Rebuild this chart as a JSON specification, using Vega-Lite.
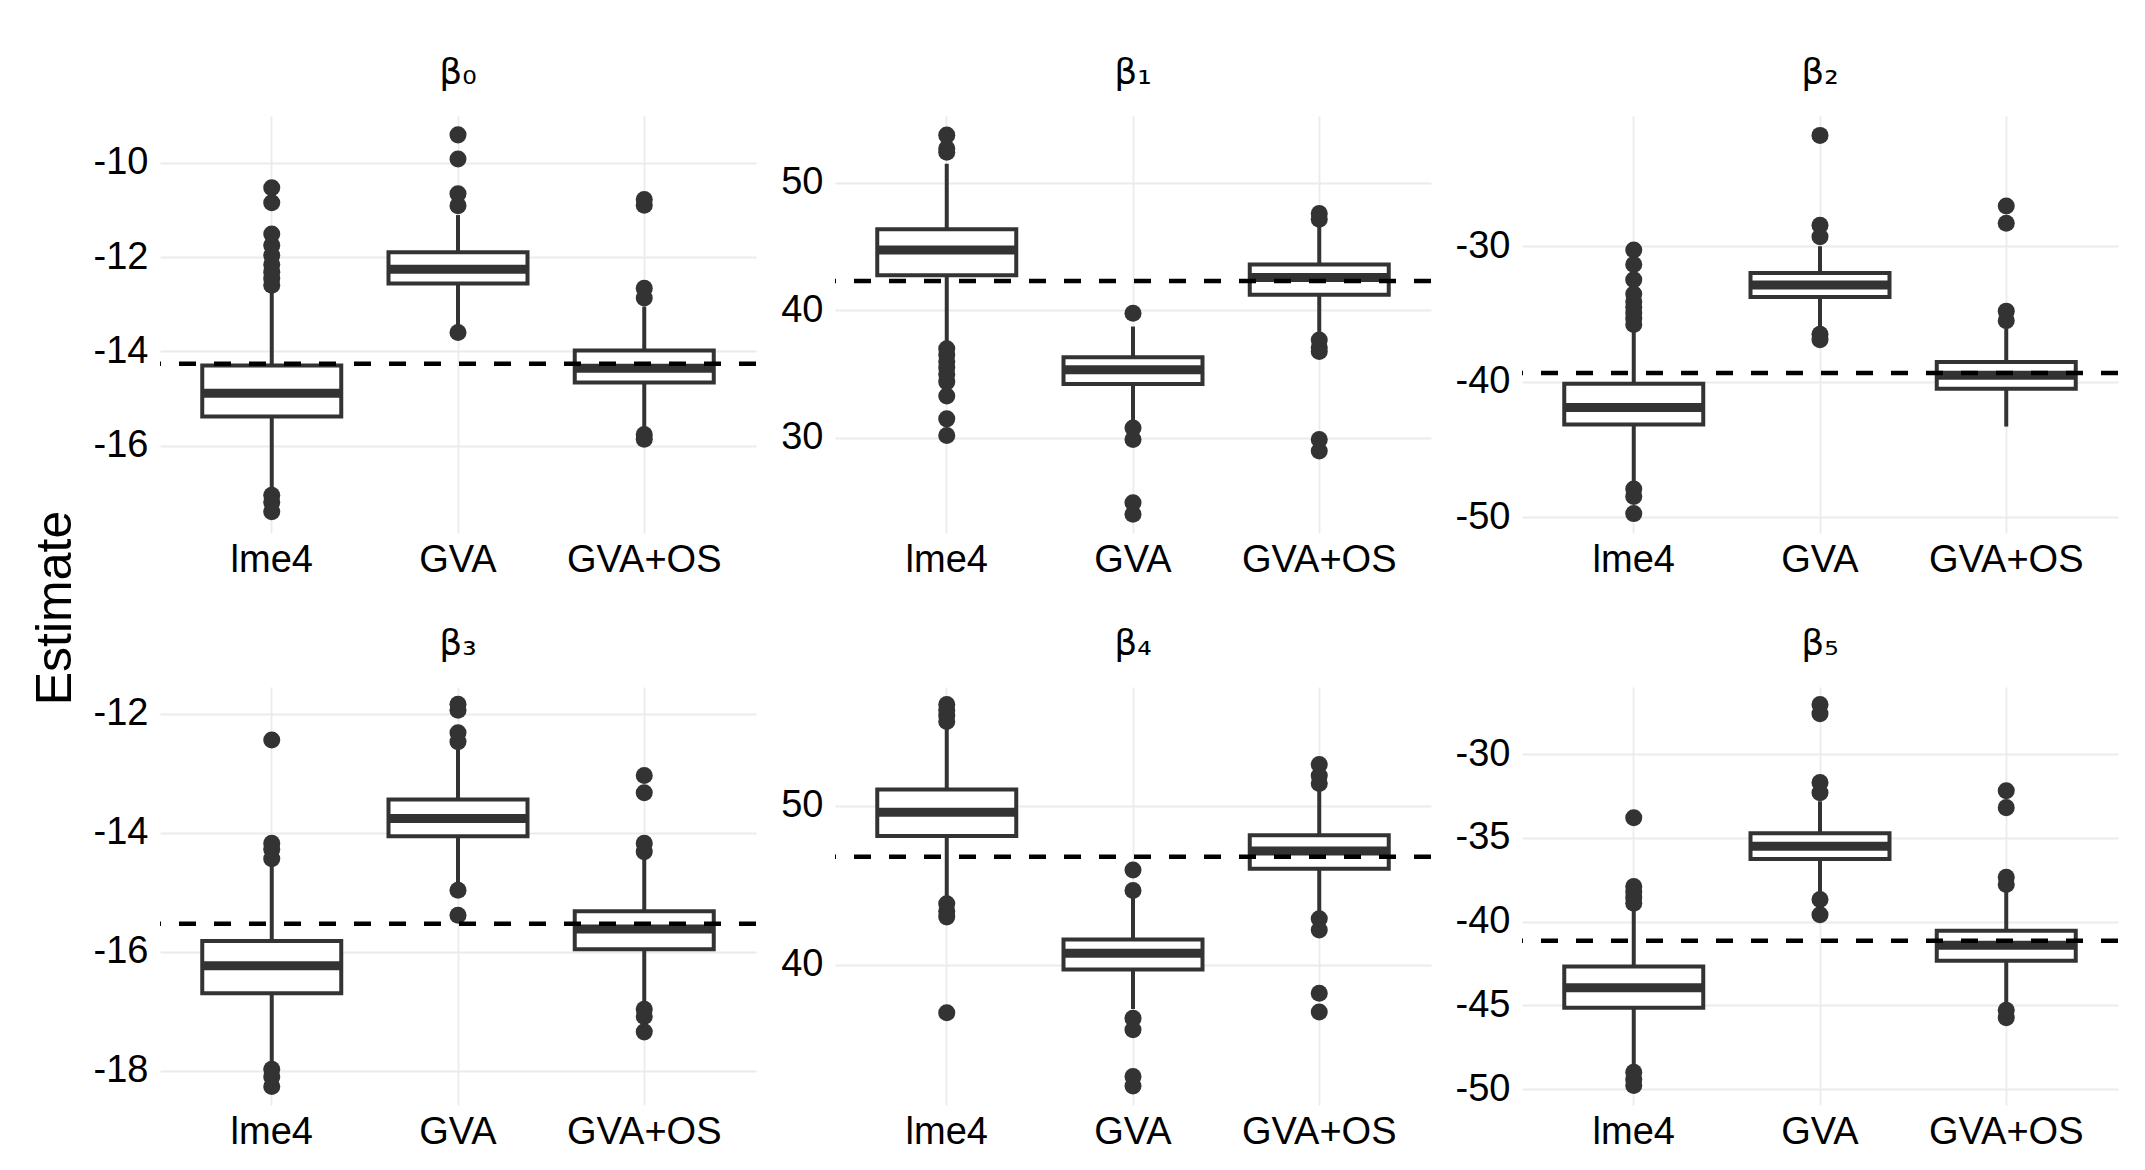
{
  "$schema": "https://vega.github.io/schema/vega-lite/v6.json",
  "background": "white",
  "padding": {"left": 27, "top": 55, "right": 20, "bottom": 10},
  "spacing": 8,
  "datasets": {
    "boxes": [
      {"param": "b0", "method": "lme4", "lower": -16.95, "q1": -15.38, "median": -14.89, "q3": -14.3, "upper": -12.66},
      {"param": "b0", "method": "GVA", "lower": -13.45, "q1": -12.56, "median": -12.26, "q3": -11.9, "upper": -11.11},
      {"param": "b0", "method": "GVA+OS", "lower": -15.6, "q1": -14.66, "median": -14.36, "q3": -13.98, "upper": -13.05},
      {"param": "b1", "method": "lme4", "lower": 37.4, "q1": 42.76, "median": 44.74, "q3": 46.37, "upper": 51.5},
      {"param": "b1", "method": "GVA", "lower": 31.4, "q1": 34.23, "median": 35.35, "q3": 36.34, "upper": 38.74},
      {"param": "b1", "method": "GVA+OS", "lower": 38.14, "q1": 41.23, "median": 42.58, "q3": 43.6, "upper": 46.55},
      {"param": "b2", "method": "lme4", "lower": -47.6, "q1": -43.15, "median": -41.89, "q3": -40.14, "upper": -36.3},
      {"param": "b2", "method": "GVA", "lower": -36.0, "q1": -33.75, "median": -32.87, "q3": -31.97, "upper": -30.0},
      {"param": "b2", "method": "GVA+OS", "lower": -43.3, "q1": -40.51, "median": -39.52, "q3": -38.54, "upper": -36.1},
      {"param": "b3", "method": "lme4", "lower": -17.9, "q1": -16.7, "median": -16.24, "q3": -15.82, "upper": -14.55},
      {"param": "b3", "method": "GVA", "lower": -14.85, "q1": -14.06, "median": -13.76, "q3": -13.44, "upper": -12.6},
      {"param": "b3", "method": "GVA+OS", "lower": -16.85, "q1": -15.96, "median": -15.62, "q3": -15.32, "upper": -14.4},
      {"param": "b4", "method": "lme4", "lower": 44.1, "q1": 48.1, "median": 49.6, "q3": 51.04, "upper": 55.0},
      {"param": "b4", "method": "GVA", "lower": 37.2, "q1": 39.69, "median": 40.71, "q3": 41.59, "upper": 44.3},
      {"param": "b4", "method": "GVA+OS", "lower": 43.25, "q1": 46.04, "median": 47.16, "q3": 48.15, "upper": 51.0},
      {"param": "b5", "method": "lme4", "lower": -48.77, "q1": -45.14, "median": -43.95, "q3": -42.68, "upper": -39.14},
      {"param": "b5", "method": "GVA", "lower": -38.24, "q1": -36.27, "median": -35.51, "q3": -34.73, "upper": -32.82},
      {"param": "b5", "method": "GVA+OS", "lower": -44.96, "q1": -42.34, "median": -41.42, "q3": -40.55, "upper": -38.24}
    ],
    "outliers": [
      {"param": "b0", "method": "lme4", "value": -10.53},
      {"param": "b0", "method": "lme4", "value": -10.85},
      {"param": "b0", "method": "lme4", "value": -11.51},
      {"param": "b0", "method": "lme4", "value": -11.75},
      {"param": "b0", "method": "lme4", "value": -11.96},
      {"param": "b0", "method": "lme4", "value": -12.16},
      {"param": "b0", "method": "lme4", "value": -12.32},
      {"param": "b0", "method": "lme4", "value": -12.46},
      {"param": "b0", "method": "lme4", "value": -12.6},
      {"param": "b0", "method": "lme4", "value": -17.05},
      {"param": "b0", "method": "lme4", "value": -17.2},
      {"param": "b0", "method": "lme4", "value": -17.4},
      {"param": "b0", "method": "GVA", "value": -9.41},
      {"param": "b0", "method": "GVA", "value": -9.92},
      {"param": "b0", "method": "GVA", "value": -10.66},
      {"param": "b0", "method": "GVA", "value": -10.91},
      {"param": "b0", "method": "GVA", "value": -13.6},
      {"param": "b0", "method": "GVA+OS", "value": -10.78},
      {"param": "b0", "method": "GVA+OS", "value": -10.9},
      {"param": "b0", "method": "GVA+OS", "value": -12.66},
      {"param": "b0", "method": "GVA+OS", "value": -12.87},
      {"param": "b0", "method": "GVA+OS", "value": -15.76},
      {"param": "b0", "method": "GVA+OS", "value": -15.86},
      {"param": "b1", "method": "lme4", "value": 53.75},
      {"param": "b1", "method": "lme4", "value": 52.7},
      {"param": "b1", "method": "lme4", "value": 52.4},
      {"param": "b1", "method": "lme4", "value": 37.0},
      {"param": "b1", "method": "lme4", "value": 36.5},
      {"param": "b1", "method": "lme4", "value": 36.0},
      {"param": "b1", "method": "lme4", "value": 35.5},
      {"param": "b1", "method": "lme4", "value": 35.0},
      {"param": "b1", "method": "lme4", "value": 34.4},
      {"param": "b1", "method": "lme4", "value": 33.3},
      {"param": "b1", "method": "lme4", "value": 31.5},
      {"param": "b1", "method": "lme4", "value": 30.2},
      {"param": "b1", "method": "GVA", "value": 39.79},
      {"param": "b1", "method": "GVA", "value": 30.78},
      {"param": "b1", "method": "GVA", "value": 29.88},
      {"param": "b1", "method": "GVA", "value": 24.93},
      {"param": "b1", "method": "GVA", "value": 24.02},
      {"param": "b1", "method": "GVA+OS", "value": 47.6},
      {"param": "b1", "method": "GVA+OS", "value": 47.15},
      {"param": "b1", "method": "GVA+OS", "value": 37.69},
      {"param": "b1", "method": "GVA+OS", "value": 37.09},
      {"param": "b1", "method": "GVA+OS", "value": 36.79},
      {"param": "b1", "method": "GVA+OS", "value": 29.88},
      {"param": "b1", "method": "GVA+OS", "value": 28.98},
      {"param": "b2", "method": "lme4", "value": -30.28},
      {"param": "b2", "method": "lme4", "value": -31.35},
      {"param": "b2", "method": "lme4", "value": -32.48},
      {"param": "b2", "method": "lme4", "value": -33.52},
      {"param": "b2", "method": "lme4", "value": -34.08},
      {"param": "b2", "method": "lme4", "value": -34.51},
      {"param": "b2", "method": "lme4", "value": -34.93},
      {"param": "b2", "method": "lme4", "value": -35.35},
      {"param": "b2", "method": "lme4", "value": -35.77},
      {"param": "b2", "method": "lme4", "value": -47.9},
      {"param": "b2", "method": "lme4", "value": -48.45},
      {"param": "b2", "method": "lme4", "value": -49.72},
      {"param": "b2", "method": "GVA", "value": -21.83},
      {"param": "b2", "method": "GVA", "value": -28.45},
      {"param": "b2", "method": "GVA", "value": -29.3},
      {"param": "b2", "method": "GVA", "value": -36.5},
      {"param": "b2", "method": "GVA", "value": -36.9},
      {"param": "b2", "method": "GVA+OS", "value": -27.04},
      {"param": "b2", "method": "GVA+OS", "value": -28.31},
      {"param": "b2", "method": "GVA+OS", "value": -34.79},
      {"param": "b2", "method": "GVA+OS", "value": -35.49},
      {"param": "b3", "method": "lme4", "value": -12.44},
      {"param": "b3", "method": "lme4", "value": -14.18},
      {"param": "b3", "method": "lme4", "value": -14.28},
      {"param": "b3", "method": "lme4", "value": -14.44},
      {"param": "b3", "method": "lme4", "value": -17.98},
      {"param": "b3", "method": "lme4", "value": -18.11},
      {"param": "b3", "method": "lme4", "value": -18.27},
      {"param": "b3", "method": "GVA", "value": -11.84},
      {"param": "b3", "method": "GVA", "value": -11.94},
      {"param": "b3", "method": "GVA", "value": -12.32},
      {"param": "b3", "method": "GVA", "value": -12.47},
      {"param": "b3", "method": "GVA", "value": -14.97},
      {"param": "b3", "method": "GVA", "value": -15.39},
      {"param": "b3", "method": "GVA+OS", "value": -13.04},
      {"param": "b3", "method": "GVA+OS", "value": -13.33},
      {"param": "b3", "method": "GVA+OS", "value": -14.18},
      {"param": "b3", "method": "GVA+OS", "value": -14.32},
      {"param": "b3", "method": "GVA+OS", "value": -16.97},
      {"param": "b3", "method": "GVA+OS", "value": -17.09},
      {"param": "b3", "method": "GVA+OS", "value": -17.35},
      {"param": "b4", "method": "lme4", "value": 56.4},
      {"param": "b4", "method": "lme4", "value": 56.04},
      {"param": "b4", "method": "lme4", "value": 55.69},
      {"param": "b4", "method": "lme4", "value": 55.33},
      {"param": "b4", "method": "lme4", "value": 43.84},
      {"param": "b4", "method": "lme4", "value": 43.36},
      {"param": "b4", "method": "lme4", "value": 43.01},
      {"param": "b4", "method": "lme4", "value": 36.97},
      {"param": "b4", "method": "GVA", "value": 45.97},
      {"param": "b4", "method": "GVA", "value": 44.67},
      {"param": "b4", "method": "GVA", "value": 36.61},
      {"param": "b4", "method": "GVA", "value": 35.9},
      {"param": "b4", "method": "GVA", "value": 32.94},
      {"param": "b4", "method": "GVA", "value": 32.35},
      {"param": "b4", "method": "GVA+OS", "value": 52.61},
      {"param": "b4", "method": "GVA+OS", "value": 51.9},
      {"param": "b4", "method": "GVA+OS", "value": 51.42},
      {"param": "b4", "method": "GVA+OS", "value": 42.89},
      {"param": "b4", "method": "GVA+OS", "value": 42.18},
      {"param": "b4", "method": "GVA+OS", "value": 38.2},
      {"param": "b4", "method": "GVA+OS", "value": 37.01},
      {"param": "b5", "method": "lme4", "value": -33.81},
      {"param": "b5", "method": "lme4", "value": -37.91},
      {"param": "b5", "method": "lme4", "value": -38.24},
      {"param": "b5", "method": "lme4", "value": -38.58},
      {"param": "b5", "method": "lme4", "value": -38.91},
      {"param": "b5", "method": "lme4", "value": -48.99},
      {"param": "b5", "method": "lme4", "value": -49.44},
      {"param": "b5", "method": "lme4", "value": -49.78},
      {"param": "b5", "method": "GVA", "value": -27.04},
      {"param": "b5", "method": "GVA", "value": -27.6},
      {"param": "b5", "method": "GVA", "value": -31.7},
      {"param": "b5", "method": "GVA", "value": -32.31},
      {"param": "b5", "method": "GVA", "value": -38.69},
      {"param": "b5", "method": "GVA", "value": -39.59},
      {"param": "b5", "method": "GVA+OS", "value": -32.19},
      {"param": "b5", "method": "GVA+OS", "value": -33.2},
      {"param": "b5", "method": "GVA+OS", "value": -37.35},
      {"param": "b5", "method": "GVA+OS", "value": -37.79},
      {"param": "b5", "method": "GVA+OS", "value": -45.3},
      {"param": "b5", "method": "GVA+OS", "value": -45.74}
    ],
    "truth": [
      {"param": "b0", "value": -14.26},
      {"param": "b1", "value": 42.31},
      {"param": "b2", "value": -39.35},
      {"param": "b3", "value": -15.53},
      {"param": "b4", "value": 46.8},
      {"param": "b5", "value": -41.15}
    ],
    "ylab": [{"label": "Estimate"}]
  },
  "hconcat": [
    {
      "width": 58, "height": 984,
      "data": {"name": "ylab"},
      "mark": {"type": "text", "angle": 270, "fontSize": 50, "font": "Liberation Sans", "color": "black", "baseline": "middle", "align": "center"},
      "encoding": {"text": {"field": "label", "type": "nominal"}}
    },
    {
      "columns": 3,
      "align": "each",
      "spacing": {"row": 47, "column": 21},
      "concat": [
        {
          "width": 596, "height": 417,
          "title": {"text": "β₀"},
          "resolve": {"axis": {"y": "independent"}},
          "layer": [
            {"data": {"name": "boxes"}, "transform": [{"filter": "datum.param === 'b0'"}],
             "mark": {"type": "rule", "color": "#333333", "strokeWidth": 4},
             "encoding": {
               "x": {"field": "method", "type": "nominal", "sort": ["lme4", "GVA", "GVA+OS"], "scale": {"type": "band", "paddingInner": 0, "paddingOuter": 0.1}, "axis": {"title": null, "grid": true, "bandPosition": 0.5}},
               "y": {"field": "lower", "type": "quantitative", "scale": {"domain": [-17.85, -9.01], "nice": false, "zero": false},
                     "axis": {"title": null, "orient": "left", "values": [-16, -14, -12, -10], "labelExpr": "'' + datum.value"}},
               "y2": {"field": "upper"}
             }},
            {"data": {"name": "boxes"}, "transform": [{"filter": "datum.param === 'b0'"}],
             "mark": {"type": "bar", "size": 139, "fill": "white", "stroke": "#333333", "strokeWidth": 4},
             "encoding": {"x": {"field": "method", "type": "nominal", "sort": ["lme4", "GVA", "GVA+OS"]},
               "y": {"field": "q1", "type": "quantitative", "axis": {"title": null, "orient": "left", "values": [-17, -15, -13, -11, -9], "labels": false, "gridColor": "#F4F4F4", "gridWidth": 1.5}},
               "y2": {"field": "q3"}}},
            {"data": {"name": "boxes"}, "transform": [{"filter": "datum.param === 'b0'"}],
             "mark": {"type": "tick", "size": 139, "thickness": 9, "color": "#333333", "opacity": 1},
             "encoding": {"x": {"field": "method", "type": "nominal", "sort": ["lme4", "GVA", "GVA+OS"]}, "y": {"field": "median", "type": "quantitative", "axis": null}}},
            {"data": {"name": "outliers"}, "transform": [{"filter": "datum.param === 'b0'"}],
             "mark": {"type": "point", "filled": true, "size": 290, "color": "#333333", "opacity": 1, "strokeWidth": 0},
             "encoding": {"x": {"field": "method", "type": "nominal", "sort": ["lme4", "GVA", "GVA+OS"]}, "y": {"field": "value", "type": "quantitative", "axis": null}}},
            {"data": {"name": "truth"}, "transform": [{"filter": "datum.param === 'b0'"}],
             "mark": {"type": "rule", "color": "black", "strokeWidth": 4.5, "strokeDash": [17, 18]},
             "encoding": {"y": {"field": "value", "type": "quantitative", "axis": null}}}
          ]
        },
        {
          "width": 596, "height": 417,
          "title": {"text": "β₁"},
          "resolve": {"axis": {"y": "independent"}},
          "layer": [
            {"data": {"name": "boxes"}, "transform": [{"filter": "datum.param === 'b1'"}],
             "mark": {"type": "rule", "color": "#333333", "strokeWidth": 4},
             "encoding": {
               "x": {"field": "method", "type": "nominal", "sort": ["lme4", "GVA", "GVA+OS"], "scale": {"type": "band", "paddingInner": 0, "paddingOuter": 0.1}, "axis": {"title": null, "grid": true, "bandPosition": 0.5}},
               "y": {"field": "lower", "type": "quantitative", "scale": {"domain": [22.55, 55.25], "nice": false, "zero": false},
                     "axis": {"title": null, "orient": "left", "values": [30, 40, 50], "labelExpr": "'' + datum.value"}},
               "y2": {"field": "upper"}
             }},
            {"data": {"name": "boxes"}, "transform": [{"filter": "datum.param === 'b1'"}],
             "mark": {"type": "bar", "size": 139, "fill": "white", "stroke": "#333333", "strokeWidth": 4},
             "encoding": {"x": {"field": "method", "type": "nominal", "sort": ["lme4", "GVA", "GVA+OS"]},
               "y": {"field": "q1", "type": "quantitative", "axis": {"title": null, "orient": "left", "values": [25, 35, 45, 55], "labels": false, "gridColor": "#F4F4F4", "gridWidth": 1.5}},
               "y2": {"field": "q3"}}},
            {"data": {"name": "boxes"}, "transform": [{"filter": "datum.param === 'b1'"}],
             "mark": {"type": "tick", "size": 139, "thickness": 9, "color": "#333333", "opacity": 1},
             "encoding": {"x": {"field": "method", "type": "nominal", "sort": ["lme4", "GVA", "GVA+OS"]}, "y": {"field": "median", "type": "quantitative", "axis": null}}},
            {"data": {"name": "outliers"}, "transform": [{"filter": "datum.param === 'b1'"}],
             "mark": {"type": "point", "filled": true, "size": 290, "color": "#333333", "opacity": 1, "strokeWidth": 0},
             "encoding": {"x": {"field": "method", "type": "nominal", "sort": ["lme4", "GVA", "GVA+OS"]}, "y": {"field": "value", "type": "quantitative", "axis": null}}},
            {"data": {"name": "truth"}, "transform": [{"filter": "datum.param === 'b1'"}],
             "mark": {"type": "rule", "color": "black", "strokeWidth": 4.5, "strokeDash": [17, 18]},
             "encoding": {"y": {"field": "value", "type": "quantitative", "axis": null}}}
          ]
        },
        {
          "width": 596, "height": 417,
          "title": {"text": "β₂"},
          "resolve": {"axis": {"y": "independent"}},
          "layer": [
            {"data": {"name": "boxes"}, "transform": [{"filter": "datum.param === 'b2'"}],
             "mark": {"type": "rule", "color": "#333333", "strokeWidth": 4},
             "encoding": {
               "x": {"field": "method", "type": "nominal", "sort": ["lme4", "GVA", "GVA+OS"], "scale": {"type": "band", "paddingInner": 0, "paddingOuter": 0.1}, "axis": {"title": null, "grid": true, "bandPosition": 0.5}},
               "y": {"field": "lower", "type": "quantitative", "scale": {"domain": [-51.15, -20.4], "nice": false, "zero": false},
                     "axis": {"title": null, "orient": "left", "values": [-50, -40, -30], "labelExpr": "'' + datum.value"}},
               "y2": {"field": "upper"}
             }},
            {"data": {"name": "boxes"}, "transform": [{"filter": "datum.param === 'b2'"}],
             "mark": {"type": "bar", "size": 139, "fill": "white", "stroke": "#333333", "strokeWidth": 4},
             "encoding": {"x": {"field": "method", "type": "nominal", "sort": ["lme4", "GVA", "GVA+OS"]},
               "y": {"field": "q1", "type": "quantitative", "axis": {"title": null, "orient": "left", "values": [-45, -35, -25], "labels": false, "gridColor": "#F4F4F4", "gridWidth": 1.5}},
               "y2": {"field": "q3"}}},
            {"data": {"name": "boxes"}, "transform": [{"filter": "datum.param === 'b2'"}],
             "mark": {"type": "tick", "size": 139, "thickness": 9, "color": "#333333", "opacity": 1},
             "encoding": {"x": {"field": "method", "type": "nominal", "sort": ["lme4", "GVA", "GVA+OS"]}, "y": {"field": "median", "type": "quantitative", "axis": null}}},
            {"data": {"name": "outliers"}, "transform": [{"filter": "datum.param === 'b2'"}],
             "mark": {"type": "point", "filled": true, "size": 290, "color": "#333333", "opacity": 1, "strokeWidth": 0},
             "encoding": {"x": {"field": "method", "type": "nominal", "sort": ["lme4", "GVA", "GVA+OS"]}, "y": {"field": "value", "type": "quantitative", "axis": null}}},
            {"data": {"name": "truth"}, "transform": [{"filter": "datum.param === 'b2'"}],
             "mark": {"type": "rule", "color": "black", "strokeWidth": 4.5, "strokeDash": [17, 18]},
             "encoding": {"y": {"field": "value", "type": "quantitative", "axis": null}}}
          ]
        },
        {
          "width": 596, "height": 418,
          "title": {"text": "β₃"},
          "resolve": {"axis": {"y": "independent"}},
          "layer": [
            {"data": {"name": "boxes"}, "transform": [{"filter": "datum.param === 'b3'"}],
             "mark": {"type": "rule", "color": "#333333", "strokeWidth": 4},
             "encoding": {
               "x": {"field": "method", "type": "nominal", "sort": ["lme4", "GVA", "GVA+OS"], "scale": {"type": "band", "paddingInner": 0, "paddingOuter": 0.1}, "axis": {"title": null, "grid": true, "bandPosition": 0.5}},
               "y": {"field": "lower", "type": "quantitative", "scale": {"domain": [-18.58, -11.55], "nice": false, "zero": false},
                     "axis": {"title": null, "orient": "left", "values": [-18, -16, -14, -12], "labelExpr": "'' + datum.value"}},
               "y2": {"field": "upper"}
             }},
            {"data": {"name": "boxes"}, "transform": [{"filter": "datum.param === 'b3'"}],
             "mark": {"type": "bar", "size": 139, "fill": "white", "stroke": "#333333", "strokeWidth": 4},
             "encoding": {"x": {"field": "method", "type": "nominal", "sort": ["lme4", "GVA", "GVA+OS"]},
               "y": {"field": "q1", "type": "quantitative", "axis": {"title": null, "orient": "left", "values": [-17, -15, -13], "labels": false, "gridColor": "#F4F4F4", "gridWidth": 1.5}},
               "y2": {"field": "q3"}}},
            {"data": {"name": "boxes"}, "transform": [{"filter": "datum.param === 'b3'"}],
             "mark": {"type": "tick", "size": 139, "thickness": 9, "color": "#333333", "opacity": 1},
             "encoding": {"x": {"field": "method", "type": "nominal", "sort": ["lme4", "GVA", "GVA+OS"]}, "y": {"field": "median", "type": "quantitative", "axis": null}}},
            {"data": {"name": "outliers"}, "transform": [{"filter": "datum.param === 'b3'"}],
             "mark": {"type": "point", "filled": true, "size": 290, "color": "#333333", "opacity": 1, "strokeWidth": 0},
             "encoding": {"x": {"field": "method", "type": "nominal", "sort": ["lme4", "GVA", "GVA+OS"]}, "y": {"field": "value", "type": "quantitative", "axis": null}}},
            {"data": {"name": "truth"}, "transform": [{"filter": "datum.param === 'b3'"}],
             "mark": {"type": "rule", "color": "black", "strokeWidth": 4.5, "strokeDash": [17, 18]},
             "encoding": {"y": {"field": "value", "type": "quantitative", "axis": null}}}
          ]
        },
        {
          "width": 596, "height": 418,
          "title": {"text": "β₄"},
          "resolve": {"axis": {"y": "independent"}},
          "layer": [
            {"data": {"name": "boxes"}, "transform": [{"filter": "datum.param === 'b4'"}],
             "mark": {"type": "rule", "color": "#333333", "strokeWidth": 4},
             "encoding": {
               "x": {"field": "method", "type": "nominal", "sort": ["lme4", "GVA", "GVA+OS"], "scale": {"type": "band", "paddingInner": 0, "paddingOuter": 0.1}, "axis": {"title": null, "grid": true, "bandPosition": 0.5}},
               "y": {"field": "lower", "type": "quantitative", "scale": {"domain": [31.15, 57.5], "nice": false, "zero": false},
                     "axis": {"title": null, "orient": "left", "values": [40, 50], "labelExpr": "'' + datum.value"}},
               "y2": {"field": "upper"}
             }},
            {"data": {"name": "boxes"}, "transform": [{"filter": "datum.param === 'b4'"}],
             "mark": {"type": "bar", "size": 139, "fill": "white", "stroke": "#333333", "strokeWidth": 4},
             "encoding": {"x": {"field": "method", "type": "nominal", "sort": ["lme4", "GVA", "GVA+OS"]},
               "y": {"field": "q1", "type": "quantitative", "axis": {"title": null, "orient": "left", "values": [35, 45, 55], "labels": false, "gridColor": "#F4F4F4", "gridWidth": 1.5}},
               "y2": {"field": "q3"}}},
            {"data": {"name": "boxes"}, "transform": [{"filter": "datum.param === 'b4'"}],
             "mark": {"type": "tick", "size": 139, "thickness": 9, "color": "#333333", "opacity": 1},
             "encoding": {"x": {"field": "method", "type": "nominal", "sort": ["lme4", "GVA", "GVA+OS"]}, "y": {"field": "median", "type": "quantitative", "axis": null}}},
            {"data": {"name": "outliers"}, "transform": [{"filter": "datum.param === 'b4'"}],
             "mark": {"type": "point", "filled": true, "size": 290, "color": "#333333", "opacity": 1, "strokeWidth": 0},
             "encoding": {"x": {"field": "method", "type": "nominal", "sort": ["lme4", "GVA", "GVA+OS"]}, "y": {"field": "value", "type": "quantitative", "axis": null}}},
            {"data": {"name": "truth"}, "transform": [{"filter": "datum.param === 'b4'"}],
             "mark": {"type": "rule", "color": "black", "strokeWidth": 4.5, "strokeDash": [17, 18]},
             "encoding": {"y": {"field": "value", "type": "quantitative", "axis": null}}}
          ]
        },
        {
          "width": 596, "height": 418,
          "title": {"text": "β₅"},
          "resolve": {"axis": {"y": "independent"}},
          "layer": [
            {"data": {"name": "boxes"}, "transform": [{"filter": "datum.param === 'b5'"}],
             "mark": {"type": "rule", "color": "#333333", "strokeWidth": 4},
             "encoding": {
               "x": {"field": "method", "type": "nominal", "sort": ["lme4", "GVA", "GVA+OS"], "scale": {"type": "band", "paddingInner": 0, "paddingOuter": 0.1}, "axis": {"title": null, "grid": true, "bandPosition": 0.5}},
               "y": {"field": "lower", "type": "quantitative", "scale": {"domain": [-50.95, -26.0], "nice": false, "zero": false},
                     "axis": {"title": null, "orient": "left", "values": [-50, -45, -40, -35, -30], "labelExpr": "'' + datum.value"}},
               "y2": {"field": "upper"}
             }},
            {"data": {"name": "boxes"}, "transform": [{"filter": "datum.param === 'b5'"}],
             "mark": {"type": "bar", "size": 139, "fill": "white", "stroke": "#333333", "strokeWidth": 4},
             "encoding": {"x": {"field": "method", "type": "nominal", "sort": ["lme4", "GVA", "GVA+OS"]},
               "y": {"field": "q1", "type": "quantitative", "axis": {"title": null, "orient": "left", "values": [-47.5, -42.5, -37.5, -32.5, -27.5], "labels": false, "gridColor": "#F4F4F4", "gridWidth": 1.5}},
               "y2": {"field": "q3"}}},
            {"data": {"name": "boxes"}, "transform": [{"filter": "datum.param === 'b5'"}],
             "mark": {"type": "tick", "size": 139, "thickness": 9, "color": "#333333", "opacity": 1},
             "encoding": {"x": {"field": "method", "type": "nominal", "sort": ["lme4", "GVA", "GVA+OS"]}, "y": {"field": "median", "type": "quantitative", "axis": null}}},
            {"data": {"name": "outliers"}, "transform": [{"filter": "datum.param === 'b5'"}],
             "mark": {"type": "point", "filled": true, "size": 290, "color": "#333333", "opacity": 1, "strokeWidth": 0},
             "encoding": {"x": {"field": "method", "type": "nominal", "sort": ["lme4", "GVA", "GVA+OS"]}, "y": {"field": "value", "type": "quantitative", "axis": null}}},
            {"data": {"name": "truth"}, "transform": [{"filter": "datum.param === 'b5'"}],
             "mark": {"type": "rule", "color": "black", "strokeWidth": 4.5, "strokeDash": [17, 18]},
             "encoding": {"y": {"field": "value", "type": "quantitative", "axis": null}}}
          ]
        }
      ]
    }
  ],
  "config": {
    "view": {"stroke": null},
    "font": "Liberation Sans",
    "axis": {"labelFont": "Liberation Sans", "labelFontSize": 38, "labelColor": "black", "ticks": false, "domain": false, "gridColor": "#EBEBEB", "gridWidth": 1.8, "titleFont": "Liberation Sans", "titleFontWeight": "normal", "titleColor": "black"},
    "axisX": {"labelPadding": 8, "labelAngle": 0},
    "axisY": {"labelPadding": 12, "labelOverlap": false},
    "title": {"font": "DejaVu Sans", "fontSize": 36, "fontWeight": "normal", "color": "black", "offset": 24}
  }
}
